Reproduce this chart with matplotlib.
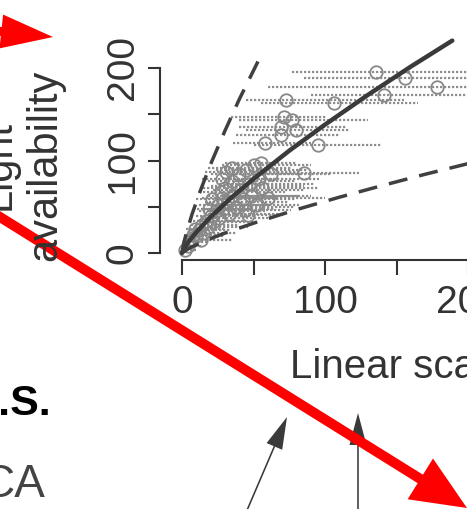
import matplotlib
matplotlib.use("Agg")
import matplotlib.pyplot as plt
from matplotlib.patches import FancyArrow
import numpy as np

plt.rcParams['font.family'] = ['Liberation Sans', 'DejaVu Sans']

# %% data
# points: x, y and the ends of the horizontal error bars
pt_x = [136, 156, 178, 141, 73, 106, 71, 77, 69, 80, 69, 58, 95, 55, 85, 46,
        2, 4, 5, 7, 8, 10, 12, 14, 15, 17, 18, 20, 22, 24, 25, 26, 28, 29, 30,
        32, 33, 35, 36, 38, 40, 41, 43, 45, 47, 48, 50, 52, 53, 56, 60, 62, 35, 28,
        21, 27, 31, 39, 44, 9, 13, 19]
pt_y = [196, 189, 179, 171, 165, 162, 147, 144, 136, 133, 128, 119, 117, 97, 86, 41,
        3, 8, 12, 15, 20, 18, 25, 30, 22, 35, 28, 40, 33, 45, 52, 38, 60, 48, 70,
        55, 42, 78, 62, 50, 85, 68, 58, 90, 75, 62, 95, 52, 80, 70, 60, 85, 92, 80,
        58, 66, 88, 72, 46, 26, 14, 48]
bar_lo = [77, 85, 60, 90, 45, 55, 34, 40, 40, 45, 38, 36, 50, 30, 55, 33,
          0, 1, 2, 3, 3, 5, 6, 6, 8, 8, 9, 10, 12, 12, 12, 14, 14, 15, 15,
          16, 18, 18, 18, 20, 20, 22, 24, 24, 26, 28, 28, 30, 30, 34, 38, 38, 18, 14,
          10, 12, 16, 20, 25, 3, 5, 8]
bar_hi = [245, 245, 245, 215, 155, 165, 101, 130, 115, 117, 110, 90, 140, 80, 124, 71,
          10, 14, 18, 22, 26, 30, 34, 40, 38, 45, 46, 52, 54, 58, 62, 60, 66, 64, 72,
          74, 70, 80, 82, 78, 84, 86, 80, 88, 92, 90, 90, 82, 96, 95, 100, 104, 76, 68,
          60, 72, 82, 85, 76, 30, 36, 48]

# fitted curve and its bounds
fit_x = [0, 1, 2, 5, 10, 20, 35, 50, 75, 100, 130, 160, 189]
fit_y = [0, 3.7, 6.3, 13.0, 22.5, 38.9, 60.6, 80.0, 110.6, 138.8, 170.9, 201.5, 229.6]
up_x = [0, 1, 3, 7, 12, 20, 30, 40, 48, 56]
up_y = [0, 9, 21.4, 41.8, 64, 96, 132, 166, 191, 216]
lo_x = [0, 5, 15, 30, 50, 80, 110, 140, 170, 200, 225]
lo_y = [0, 5.2, 12.5, 21.5, 32.2, 46.9, 60.3, 72.9, 85.1, 96.6, 106]

xticks = [0, 50, 100, 150, 200]
xlabels = ['0', '', '100', '', '200']
yticks = [0, 50, 100, 150, 200]
ylabels = ['0', '', '100', '', '200']

# %% layout in pixels
W, H = 467, 509
ox, oy = 182, 253          # pixel of data (0, 0)
sx, sy = 1.43, 0.925       # pixels per data unit
xlim = (-16, 222)
ylim = (-10, 257)

fig = plt.figure(figsize=(W / 100, H / 100), dpi=100)
left = (ox + xlim[0] * sx) / W
right = (ox + xlim[1] * sx) / W
bottom = (H - (oy - ylim[0] * sy)) / H
top = (H - (oy - ylim[1] * sy)) / H
ax = fig.add_axes([left, bottom, right - left, top - bottom])
ax.set_xlim(xlim)
ax.set_ylim(ylim)

ink = '#333333'
ax.hlines(pt_y, bar_lo, bar_hi, colors='#8e8e8e', linestyles=(0, (1, 0.8)), linewidth=1.6, zorder=1)
ax.plot(pt_x, pt_y, 'o', ms=9, mfc='none', mec='#888888', mew=1.3, zorder=2)
ax.plot(fit_x, fit_y, color='#3a3a3a', lw=3.2, solid_capstyle='round', zorder=3)
ax.plot(up_x, up_y, color='#404040', lw=2.5, ls=(0, (5.5, 3.5)), zorder=3)
ax.plot(lo_x, lo_y, color='#404040', lw=2.5, ls=(0, (5.5, 3.5)), zorder=3)

for s in ['top', 'right']:
    ax.spines[s].set_visible(False)
ax.spines['left'].set_position(('data', -15.4))
ax.spines['bottom'].set_position(('data', -7.6))
ax.spines['left'].set_bounds(0, 200)
ax.spines['bottom'].set_bounds(0, 230)
for s in ['left', 'bottom']:
    ax.spines[s].set_linewidth(1.5)
    ax.spines[s].set_color(ink)

ax.set_xticks(xticks)
ax.set_xticklabels(xlabels)
ax.set_yticks(yticks)
ax.set_yticklabels(ylabels)
ax.tick_params(axis='x', length=11, width=1.5, color=ink, labelcolor=ink, labelsize=28, pad=7)
ax.tick_params(axis='y', length=9, width=1.5, color=ink, labelcolor=ink, labelsize=28, pad=5)
for lab in ax.get_yticklabels():
    lab.set_rotation(90)
    lab.set_va('center')
    lab.set_ha('right')

# %% overlay in pixel coordinates
ov = fig.add_axes([0, 0, 1, 1])
ov.set_xlim(0, W)
ov.set_ylim(H, 0)
ov.axis('off')

ov.text(22, 165, 'Light\navailability', rotation=90, ha='center', va='center',
        multialignment='center', fontsize=30, color=ink, linespacing=1.2)
ov.text(290, 378, 'Linear scale', ha='left', va='baseline', fontsize=29, color=ink)
ov.text(51, 415, 'U.S.', ha='right', va='baseline', fontsize=31, fontweight='bold', color='black')
ov.text(45, 497, 'CA', ha='right', va='baseline', fontsize=33, color='#444444')

# black arrows from the scan
ov.add_patch(FancyArrow(245, 515, 287 - 245, 417 - 515, width=1.6, head_width=17, head_length=32,
                        length_includes_head=True, color='#3a3a3a', lw=0))
ov.add_patch(FancyArrow(358, 515, 0, 413 - 515, width=1.6, head_width=17, head_length=32,
                        length_includes_head=True, color='#3a3a3a', lw=0))

# red arrows on top
red = '#ff0000'
ov.add_patch(FancyArrow(-200, 10, 253, 27, width=9, head_width=34, head_length=52,
                        length_includes_head=True, color=red, lw=0))
ov.add_patch(FancyArrow(-100, 154.7, 567, 353.3, width=10, head_width=48, head_length=55,
                        length_includes_head=True, color=red, lw=0))

fig.savefig('out.png', dpi=100)
